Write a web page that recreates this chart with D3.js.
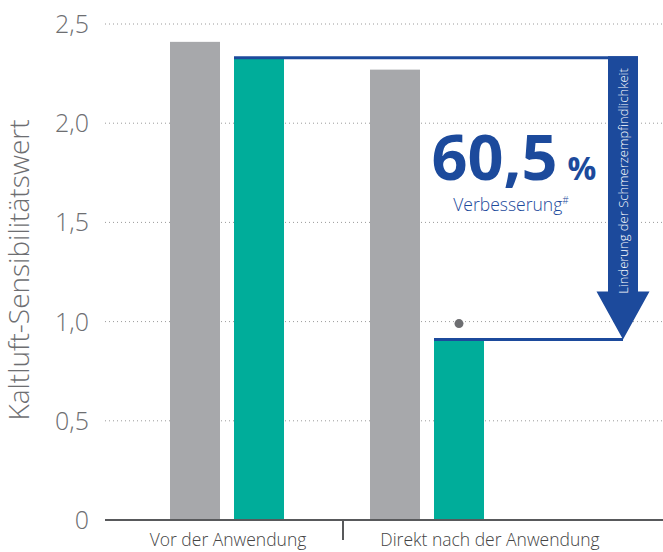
<!DOCTYPE html>
<html>
<head>
<meta charset="utf-8">
<script src="https://d3js.org/d3.v7.min.js"></script>
<style>
  body { margin: 0; background: #fff; }
  text { font-family: "Open Sans", Lato, sans-serif; }
</style>
</head>
<body>
<script>
// data
var categories = ["Vor der Anwendung", "Direkt nach der Anwendung"];
var series = ["grau", "gruen"];
var grauValues = [2.41, 2.27];
var gruenValues = [2.33, 0.91];
var dotValue = 0.99;            // marker above the second green bar
var yTicks = [0, 0.5, 1, 1.5, 2, 2.5];
var yTickLabels = ["0", "0,5", "1,0", "1,5", "2,0", "2,5"];
var improvement = "60,5";

var width = 663, height = 552;
var colors = {grau: "#a7a8ab", gruen: "#00ad9a", blau: "#1c4a9c", text: "#6d6e71"};

var svg = d3.select("body").append("svg")
    .attr("width", width)
    .attr("height", height);

var y = d3.scaleLinear().domain([0, 2.5]).range([520, 24]);
var x = d3.scaleBand().domain(categories).range([127, 527]);
var xs = d3.scaleBand().domain(series).range([43, 157]).paddingInner(0.21875);

// gridlines
svg.append("g").selectAll("line")
    .data(yTicks.filter(d => d > 0))
  .enter().append("line")
    .attr("x1", 105).attr("x2", width)
    .attr("y1", d => y(d)).attr("y2", d => y(d))
    .attr("stroke", "#9a9a9a")
    .attr("stroke-width", 1)
    .attr("stroke-dasharray", "1,3");

// tick labels
svg.append("g").selectAll("text")
    .data(yTicks)
  .enter().append("text")
    .attr("x", 89)
    .attr("y", d => y(d))
    .attr("dy", "0.36em")
    .attr("text-anchor", "end")
    .attr("font-size", 25)
    .attr("font-weight", 300)
    .attr("fill", colors.text)
    .text((d, i) => yTickLabels[i]);

// y title
svg.append("text")
    .attr("transform", "translate(29," + y(1.26) + ") rotate(-90)")
    .attr("text-anchor", "middle")
    .attr("font-size", 28)
    .attr("font-weight", 300)
    .attr("fill", colors.text)
    .text("Kaltluft-Sensibilitätswert");

// bars
var rows = categories.map((c, i) => ({cat: c, grau: grauValues[i], gruen: gruenValues[i]}));
var groups = svg.append("g").selectAll("g")
    .data(rows)
  .enter().append("g")
    .attr("transform", d => "translate(" + x(d.cat) + ",0)");

groups.selectAll("rect")
    .data(d => series.map(s => ({key: s, value: d[s]})))
  .enter().append("rect")
    .attr("x", d => xs(d.key))
    .attr("width", xs.bandwidth())
    .attr("y", d => y(d.value))
    .attr("height", d => y(0) - y(d.value))
    .attr("fill", d => colors[d.key]);

// x axis
svg.append("line")
    .attr("x1", 105).attr("x2", width)
    .attr("y1", y(0)).attr("y2", y(0))
    .attr("stroke", "#58595b")
    .attr("stroke-width", 2);
svg.append("line")
    .attr("x1", x(categories[1]) + 16).attr("x2", x(categories[1]) + 16)
    .attr("y1", y(0)).attr("y2", y(0) + 20)
    .attr("stroke", "#58595b")
    .attr("stroke-width", 2);

var labelX = [x(categories[0]) + 101, x(categories[1]) + 163];
svg.append("g").selectAll("text")
    .data(categories)
  .enter().append("text")
    .attr("x", (d, i) => labelX[i])
    .attr("y", 546)
    .attr("text-anchor", "middle")
    .attr("font-size", 17.5)
    .attr("font-weight", 300)
    .attr("fill", "#444")
    .text(d => d);

// dot
svg.append("circle")
    .attr("cx", x(categories[1]) + xs("gruen") + xs.bandwidth() / 2)
    .attr("cy", y(dotValue))
    .attr("r", 4.5)
    .attr("fill", "#6d6e71");

// annotation: bracket lines + arrow
var topY = y(gruenValues[0]), botY = y(gruenValues[1]);
var arrowX = 623, shaftW = 30, headW = 53, headH = 48;

svg.append("line")
    .attr("x1", x(categories[0]) + xs("gruen")).attr("x2", arrowX + shaftW / 2)
    .attr("y1", topY).attr("y2", topY)
    .attr("stroke", colors.blau).attr("stroke-width", 3);
svg.append("line")
    .attr("x1", x(categories[1]) + xs("gruen")).attr("x2", arrowX)
    .attr("y1", botY).attr("y2", botY)
    .attr("stroke", colors.blau).attr("stroke-width", 3);

svg.append("path")
    .attr("d", d3.line()([
        [arrowX - shaftW / 2, topY - 1.5],
        [arrowX + shaftW / 2, topY - 1.5],
        [arrowX + shaftW / 2, botY - headH],
        [arrowX + headW / 2, botY - headH],
        [arrowX, botY],
        [arrowX - headW / 2, botY - headH],
        [arrowX - shaftW / 2, botY - headH]
    ]) + "Z")
    .attr("fill", colors.blau);

svg.append("text")
    .attr("transform", "translate(" + (arrowX + 4.5) + "," + 181 + ") rotate(-90)")
    .attr("text-anchor", "middle")
    .attr("font-size", 13)
    .attr("font-weight", 300)
    .attr("fill", "#fff")
    .text("Linderung der Schmerzempfindlichkeit");

var big = svg.append("text")
    .attr("x", 514)
    .attr("y", 180)
    .attr("text-anchor", "middle")
    .attr("fill", colors.blau)
    .attr("font-family", "Lato, sans-serif")
    .attr("font-weight", 700);
big.append("tspan").attr("font-size", 63).text(improvement);
big.append("tspan").attr("font-size", 32).attr("dx", 10).text("%");

var sub = svg.append("text")
    .attr("x", 511)
    .attr("y", 211)
    .attr("text-anchor", "middle")
    .attr("fill", colors.blau)
    .attr("font-size", 17.5)
    .attr("font-weight", 300);
sub.append("tspan").text("Verbesserung");
sub.append("tspan").attr("font-size", 10).attr("dy", -7).text("#");
</script>
</body>
</html>
